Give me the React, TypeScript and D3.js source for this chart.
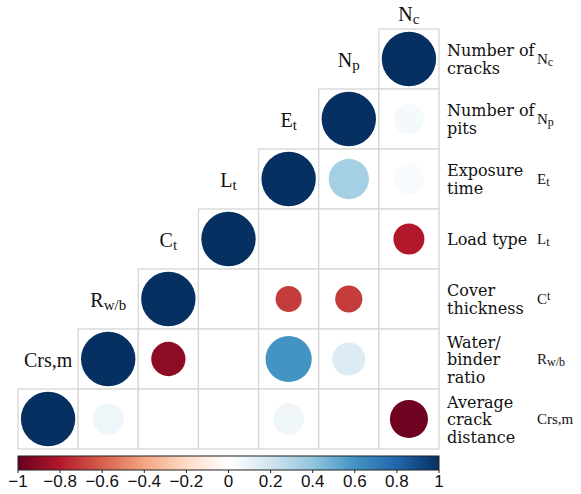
import React from "react";
import * as d3 from "d3";

// Columns (left to right) and rows (top to bottom)
const variables = ["Crs,m", "Rw/b", "Ct", "Lt", "Et", "Np", "Nc"];
const rowVars = ["Nc", "Np", "Et", "Lt", "Ct", "Rw/b", "Crs,m"];
const fullNames = [
  ["Number of", "cracks"],
  ["Number of", "pits"],
  ["Exposure", "time"],
  ["Load type"],
  ["Cover", "thickness"],
  ["Water/", "binder", "ratio"],
  ["Average", "crack", "distance"],
];
// label parts: [main, sub]
const labelMain: Record<string, string> = { "Crs,m": "Crs,m", "Rw/b": "R", Ct: "C", Lt: "L", Et: "E", Np: "N", Nc: "N" };
const labelSub: Record<string, string> = { "Crs,m": "", "Rw/b": "w/b", Ct: "t", Lt: "t", Et: "t", Np: "p", Nc: "c" };

// Off-diagonal pairs (row variable, column variable), correlation and circle size
const pairRow = ["Np", "Et", "Et", "Lt", "Ct", "Ct", "Rw/b", "Rw/b", "Rw/b", "Crs,m", "Crs,m", "Crs,m"];
const pairCol = ["Nc", "Np", "Nc", "Nc", "Et", "Np", "Ct", "Et", "Np", "Rw/b", "Et", "Nc"];
const pairValue = [0.05, 0.34, 0.03, -0.8, -0.7, -0.7, -0.9, 0.6, 0.15, 0.07, 0.07, -0.98];
const pairSize = [0.56, 0.74, 0.57, 0.57, 0.48, 0.5, 0.63, 0.85, 0.61, 0.57, 0.57, 0.7];

const colorTicks = [-1, -0.8, -0.6, -0.4, -0.2, 0, 0.2, 0.4, 0.6, 0.8, 1];
const paletteColors = ["#67001F", "#B2182B", "#D6604D", "#F4A582", "#FDDBC7", "#FFFFFF", "#D1E5F0", "#92C5DE", "#4393C3", "#2166AC", "#053061"];

const W = 581, H = 494;
const serif = "Liberation Serif, serif";
const serif2 = "DejaVu Serif, serif";
const sans = "Liberation Sans, Arial, sans-serif";

export default function App() {
  const x = d3.scaleBand<string>().domain(variables).range([18, 439]);
  const y = d3.scaleBand<string>().domain(rowVars).range([29, 449]);
  const bw = x.bandwidth();
  const bh = y.bandwidth();
  const color = d3.scaleLinear<string>().domain(colorTicks).range(paletteColors).interpolate(d3.interpolateRgb);
  const rScale = d3.scaleLinear().domain([0, 1]).range([0, 27.2]);
  const cbX = d3.scaleLinear().domain([-1, 1]).range([18, 439]);

  const cells: { r: string; c: string }[] = [];
  rowVars.forEach((rv, i) => {
    variables.forEach((cv, j) => {
      if (j >= variables.length - 1 - i) cells.push({ r: rv, c: cv });
    });
  });

  const circles = [
    ...variables.map((v) => ({ r: v, c: v, value: 1, size: 1 })),
    ...pairRow.map((r, i) => ({ r, c: pairCol[i], value: pairValue[i], size: pairSize[i] })),
  ];

  const renderLabel = (v: string, size: number, subSize: number, sup = false) => {
    if (!labelSub[v]) return <tspan>{labelMain[v]}</tspan>;
    return (
      <>
        <tspan>{labelMain[v]}</tspan>
        <tspan fontSize={subSize} dy={sup ? -size * 0.3 : size * 0.15}>{labelSub[v]}</tspan>
      </>
    );
  };

  return (
    <svg width={W} height={H} style={{ position: "absolute", left: 0, top: 0, background: "#fff" }}>
      <defs>
        <linearGradient id="cb" x1="0" x2="1" y1="0" y2="0">
          {colorTicks.map((t, i) => (
            <stop key={i} offset={(t + 1) / 2} stopColor={paletteColors[i]} />
          ))}
        </linearGradient>
      </defs>
      {cells.map((d, i) => (
        <rect key={i} x={x(d.c)} y={y(d.r)} width={bw} height={bh} fill="#fff" stroke="#D6D6D6" strokeWidth={1.3} />
      ))}
      {circles.map((d, i) => (
        <circle key={i} cx={(x(d.c) as number) + bw / 2} cy={(y(d.r) as number) + bh / 2} r={rScale(d.size)} fill={color(d.value)} />
      ))}
      {variables.map((v) => {
        const cx = (x(v) as number) + bw / 2;
        const cy = Math.max((y(v) as number) - bh / 2 + 8, 21);
        return (
          <text key={v} x={cx} y={cy} textAnchor="middle" fontFamily={serif} fontSize={20} fill="#111">
            {renderLabel(v, 20, 15)}
          </text>
        );
      })}
      {rowVars.map((v, i) => {
        const lines = fullNames[i];
        const cy = (y(v) as number) + bh / 2;
        const lh = 17.5;
        const first = cy + 6 - ((lines.length - 1) * lh) / 2;
        return (
          <g key={v}>
            <text x={447} y={first} fontFamily={serif2} fontSize={16} fill="#111">
              {lines.map((l, k) => (
                <tspan key={k} x={447} y={first + k * lh}>{l}</tspan>
              ))}
            </text>
            <text x={537} y={cy + 5} fontFamily={serif} fontSize={15} fill="#111">
              {renderLabel(v, 15, 12, v === "Ct")}
            </text>
          </g>
        );
      })}
      <rect x={18} y={456} width={421} height={14} fill="url(#cb)" stroke="#222" strokeWidth={1} />
      {colorTicks.map((t, i) => (
        <g key={i}>
          <line x1={cbX(t)} x2={cbX(t)} y1={470} y2={473} stroke="#222" strokeWidth={1} />
          <text x={cbX(t)} y={487} textAnchor="middle" fontFamily={sans} fontSize={17} fill="#111">
            {d3.format("")(t)}
          </text>
        </g>
      ))}
    </svg>
  );
}
